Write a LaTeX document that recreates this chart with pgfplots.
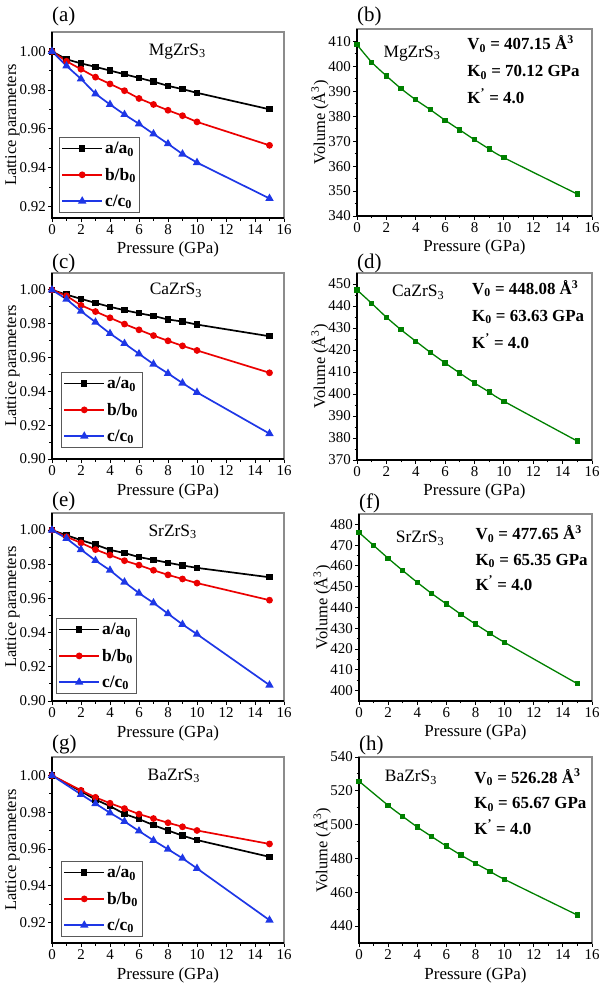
\documentclass[border=0pt]{standalone}
\usepackage{pgfplots}
\pgfplotsset{compat=1.18}
\usepackage{fontspec}
\setmainfont{Liberation Serif}

\definecolor{oblue}{RGB}{30,55,230}
\definecolor{ored}{RGB}{235,0,0}
\definecolor{ogreen}{RGB}{0,128,0}
\definecolor{frame}{RGB}{140,140,140}

\newcommand{\blackframe}{\draw[black, line width=1.1bp] (rel axis cs:0,1) -- (rel axis cs:0,0) -- (rel axis cs:1,0);}

\pgfplotsset{
 base/.style={
  scale only axis, clip=false,
  axis line style={frame, line width=1.1bp},
  tick align=outside, tick pos=left,
  major tick length=4bp, minor tick length=2.5bp,
  every tick/.style={black, line width=0.9bp},
  xmin=0, xmax=16, xtick={0,2,...,16}, minor x tick num=1, minor y tick num=1,
  tick label style={font=\fontsize{15}{15}\selectfont, inner sep=2bp},
  /pgf/number format/assume math mode=true,
  every axis x label/.style={at={(axis description cs:0.5,0)}, anchor=base, yshift=-36bp, font=\fontsize{17}{17}\selectfont},
  xlabel={Pressure (GPa)},
 },
 lat/.style={base, width=232bp,
  every axis y label/.style={at={(axis description cs:-0.155,0.5)}, rotate=90, anchor=base, font=\fontsize{16.5}{16.5}\selectfont},
  ylabel={Lattice parameters},
  yticklabel style={/pgf/number format/.cd, fixed, fixed zerofill, precision=2},
  legend style={anchor=south west, draw=gray!70!black, line width=0.8bp,
    font=\fontsize{17.5}{17.5}\selectfont\bfseries, inner xsep=2bp, inner ysep=3bp, row sep=9bp},
  legend cell align=left,
  legend image code/.code={\draw[mark repeat=2,mark phase=2] plot coordinates {(0bp,0bp)(20bp,0bp)(40bp,0bp)};},
 },
 vol/.style={base,
  every axis y label/.style={at={(axis description cs:-0.136,0.5)}, rotate=90, anchor=base, font=\fontsize{16.5}{16.5}\selectfont},
  ylabel={Volume (Å\textsuperscript{3})},
 },
 aplot/.style={black, line width=1.7bp, mark=square*, mark size=2.3bp, mark options={solid}},
 bplot/.style={ored, line width=1.7bp, mark=*, mark size=2.5bp, mark options={solid}},
 cplot/.style={oblue, line width=1.7bp, mark=triangle*, mark size=3.2bp, mark options={solid}},
 vplot/.style={ogreen, line width=1.3bp, smooth, mark=square*, mark size=2bp, mark options={solid}},
}

\newcommand{\cmp}[1]{\fontsize{17.5}{17.5}\selectfont #1ZrS\textsubscript{3}}
\newcommand{\ann}{\fontsize{17}{17}\selectfont\bfseries}
\newcommand{\plab}{\fontsize{21}{21}\selectfont}

\begin{document}
\begin{tikzpicture}
\path[use as bounding box] (0,0) rectangle (600bp,-985bp);

% (a)
\begin{axis}[lat, at={(52bp,-32bp)}, anchor=north west, height=186bp,
  ymin=0.914, ymax=1.01, ytick={0.92,0.94,...,1.00},
  legend style={at={(axis description cs:0.03,0.027)}}]
\addplot[aplot] coordinates {(0,1.0000)(1,0.9959)(2,0.9938)(3,0.9920)(4,0.9901)(5,0.9882)(6,0.9863)(7,0.9844)(8,0.9822)(9,0.9805)(10,0.9786)(15,0.9701)};
\addplot[bplot] coordinates {(0,1.0000)(1,0.9949)(2,0.9908)(3,0.9867)(4,0.9832)(5,0.9797)(6,0.9757)(7,0.9726)(8,0.9696)(9,0.9668)(10,0.9636)(15,0.9515)};
\addplot[cplot] coordinates {(0,1.0000)(1,0.9925)(2,0.9858)(3,0.9781)(4,0.9726)(5,0.9674)(6,0.9626)(7,0.9574)(8,0.9523)(9,0.9470)(10,0.9426)(15,0.9241)};
\legend{a/a\textsubscript{0}, b/b\textsubscript{0}, c/c\textsubscript{0}}
\blackframe
\node[anchor=base] at (axis description cs:0.54,0.876) {\cmp{Mg}};
\node[anchor=base west, inner sep=0pt] at (axis description cs:0,1) [yshift=11bp] {\plab(a)};
\end{axis}

% (b)
\begin{axis}[vol, at={(357bp,-29bp)}, anchor=north west, width=235bp, height=187bp,
  ymin=340, ymax=415, ytick={340,350,...,410}]
\addplot[vplot] coordinates {(0,408.7)(1,401.7)(2,396.2)(3,391.1)(4,386.6)(5,382.6)(6,378.4)(7,374.5)(8,370.6)(9,366.9)(10,363.4)(15,348.8)};
\blackframe
\node[anchor=base] at (axis description cs:0.234,0.85) {\cmp{Mg}};
\node[anchor=base west] at (axis description cs:0.455,0.888) {\ann V\textsubscript{0} = 407.15 Å\textsuperscript{3}};
\node[anchor=base west] at (axis description cs:0.455,0.745) {\ann K\textsubscript{0} = 70.12 GPa};
\node[anchor=base west] at (axis description cs:0.455,0.604) {\ann K\textsuperscript{'} = 4.0};
\node[anchor=base west, inner sep=0pt] at (axis description cs:0,1) [yshift=8bp] {\plab(b)};
\end{axis}

% (c)
\begin{axis}[lat, at={(52bp,-273bp)}, anchor=north west, height=186bp,
  ymin=0.90, ymax=1.01, ytick={0.90,0.92,...,1.00},
  legend style={at={(axis description cs:0.039,0.059)}}]
\addplot[aplot] coordinates {(0,1.0000)(1,0.9972)(2,0.9947)(3,0.9923)(4,0.9900)(5,0.9880)(6,0.9862)(7,0.9846)(8,0.9825)(9,0.9813)(10,0.9795)(15,0.9726)};
\addplot[bplot] coordinates {(0,1.0000)(1,0.9965)(2,0.9909)(3,0.9872)(4,0.9835)(5,0.9798)(6,0.9764)(7,0.9730)(8,0.9699)(9,0.9669)(10,0.9642)(15,0.9510)};
\addplot[cplot] coordinates {(0,1.0000)(1,0.9945)(2,0.9874)(3,0.9809)(4,0.9742)(5,0.9683)(6,0.9622)(7,0.9561)(8,0.9506)(9,0.9449)(10,0.9394)(15,0.9150)};
\legend{a/a\textsubscript{0}, b/b\textsubscript{0}, c/c\textsubscript{0}}
\blackframe
\node[anchor=base] at (axis description cs:0.534,0.882) {\cmp{Ca}};
\node[anchor=base west, inner sep=0pt] at (axis description cs:0,1) [yshift=5bp] {\plab(c)};
\end{axis}

% (d)
\begin{axis}[vol, at={(357bp,-273bp)}, anchor=north west, width=235bp, height=187bp,
  ymin=370, ymax=455, ytick={370,380,...,450}]
\addplot[vplot] coordinates {(0,447.3)(1,441.2)(2,434.9)(3,429.2)(4,424.0)(5,418.9)(6,414.1)(7,409.5)(8,405.0)(9,400.9)(10,396.7)(15,378.6)};
\blackframe
\node[anchor=base] at (axis description cs:0.26,0.872) {\cmp{Ca}};
\node[anchor=base west] at (axis description cs:0.475,0.886) {\ann V\textsubscript{0} = 448.08 Å\textsuperscript{3}};
\node[anchor=base west] at (axis description cs:0.475,0.742) {\ann K\textsubscript{0} = 63.63 GPa};
\node[anchor=base west] at (axis description cs:0.475,0.598) {\ann K\textsuperscript{'} = 4.0};
\node[anchor=base west, inner sep=0pt] at (axis description cs:0,1) [yshift=5bp] {\plab(d)};
\end{axis}

% (e)
\begin{axis}[lat, at={(52bp,-513bp)}, anchor=north west, height=188bp,
  ymin=0.90, ymax=1.01, ytick={0.90,0.92,...,1.00},
  legend style={at={(axis description cs:0.017,0.037)}}]
\addplot[aplot] coordinates {(0,1.0000)(1,0.9970)(2,0.9941)(3,0.9915)(4,0.9884)(5,0.9866)(6,0.9842)(7,0.9826)(8,0.9809)(9,0.9793)(10,0.9779)(15,0.9724)};
\addplot[bplot] coordinates {(0,1.0000)(1,0.9961)(2,0.9925)(3,0.9886)(4,0.9854)(5,0.9821)(6,0.9795)(7,0.9765)(8,0.9738)(9,0.9714)(10,0.9690)(15,0.9590)};
\addplot[cplot] coordinates {(0,1.0000)(1,0.9951)(2,0.9886)(3,0.9822)(4,0.9765)(5,0.9696)(6,0.9631)(7,0.9574)(8,0.9511)(9,0.9448)(10,0.9391)(15,0.9093)};
\legend{a/a\textsubscript{0}, b/b\textsubscript{0}, c/c\textsubscript{0}}
\blackframe
\node[anchor=base] at (axis description cs:0.52,0.876) {\cmp{Sr}};
\node[anchor=base west, inner sep=0pt] at (axis description cs:0,1) [yshift=7bp] {\plab(e)};
\end{axis}

% (f)
\begin{axis}[vol, at={(359bp,-514bp)}, anchor=north west, width=233bp, height=187bp,
  ymin=395, ymax=485, ytick={400,410,...,480}]
\addplot[vplot] coordinates {(0,476.1)(1,469.9)(2,463.7)(3,457.8)(4,452.1)(5,446.7)(6,441.7)(7,436.7)(8,432.0)(9,427.5)(10,423.2)(15,403.3)};
\blackframe
\node[anchor=base] at (axis description cs:0.262,0.845) {\cmp{Sr}};
\node[anchor=base west] at (axis description cs:0.485,0.861) {\ann V\textsubscript{0} = 477.65 Å\textsuperscript{3}};
\node[anchor=base west] at (axis description cs:0.485,0.727) {\ann K\textsubscript{0} = 65.35 GPa};
\node[anchor=base west] at (axis description cs:0.485,0.593) {\ann K\textsuperscript{'} = 4.0};
\node[anchor=base west, inner sep=0pt] at (axis description cs:0,1) [yshift=6bp] {\plab(f)};
\end{axis}

% (g)
\begin{axis}[lat, at={(52bp,-757bp)}, anchor=north west, height=186bp,
  ymin=0.909, ymax=1.01, ytick={0.92,0.94,...,1.00},
  legend style={at={(axis description cs:0.039,0.032)}}]
\addplot[aplot] coordinates {(0,1.0000)(2,0.9914)(3,0.9869)(4,0.9833)(5,0.9791)(6,0.9763)(7,0.9730)(8,0.9701)(9,0.9673)(10,0.9649)(15,0.9558)};
\addplot[bplot] coordinates {(0,1.0000)(2,0.9919)(3,0.9881)(4,0.9849)(5,0.9820)(6,0.9790)(7,0.9766)(8,0.9743)(9,0.9721)(10,0.9701)(15,0.9628)};
\addplot[cplot] coordinates {(0,1.0000)(2,0.9897)(3,0.9847)(4,0.9797)(5,0.9750)(6,0.9698)(7,0.9647)(8,0.9599)(9,0.9550)(10,0.9495)(15,0.9214)};
\legend{a/a\textsubscript{0}, b/b\textsubscript{0}, c/c\textsubscript{0}}
\blackframe
\node[anchor=base] at (axis description cs:0.525,0.876) {\cmp{Ba}};
\node[anchor=base west, inner sep=0pt] at (axis description cs:0,1) [yshift=8bp] {\plab(g)};
\end{axis}

% (h)
\begin{axis}[vol, at={(359bp,-757bp)}, anchor=north west, width=233bp, height=186bp,
  ymin=430, ymax=540, ytick={440,460,...,540}]
\addplot[vplot] coordinates {(0,525.7)(2,511.4)(3,504.9)(4,498.6)(5,492.9)(6,487.3)(7,482.0)(8,477.1)(9,472.4)(10,467.6)(15,446.5)};
\blackframe
\node[anchor=base] at (axis description cs:0.223,0.866) {\cmp{Ba}};
\node[anchor=base west] at (axis description cs:0.48,0.86) {\ann V\textsubscript{0} = 526.28 Å\textsuperscript{3}};
\node[anchor=base west] at (axis description cs:0.48,0.723) {\ann K\textsubscript{0} = 65.67 GPa};
\node[anchor=base west] at (axis description cs:0.48,0.586) {\ann K\textsuperscript{'} = 4.0};
\node[anchor=base west, inner sep=0pt] at (axis description cs:0,1) [yshift=7bp] {\plab(h)};
\end{axis}
\end{tikzpicture}
\end{document}
